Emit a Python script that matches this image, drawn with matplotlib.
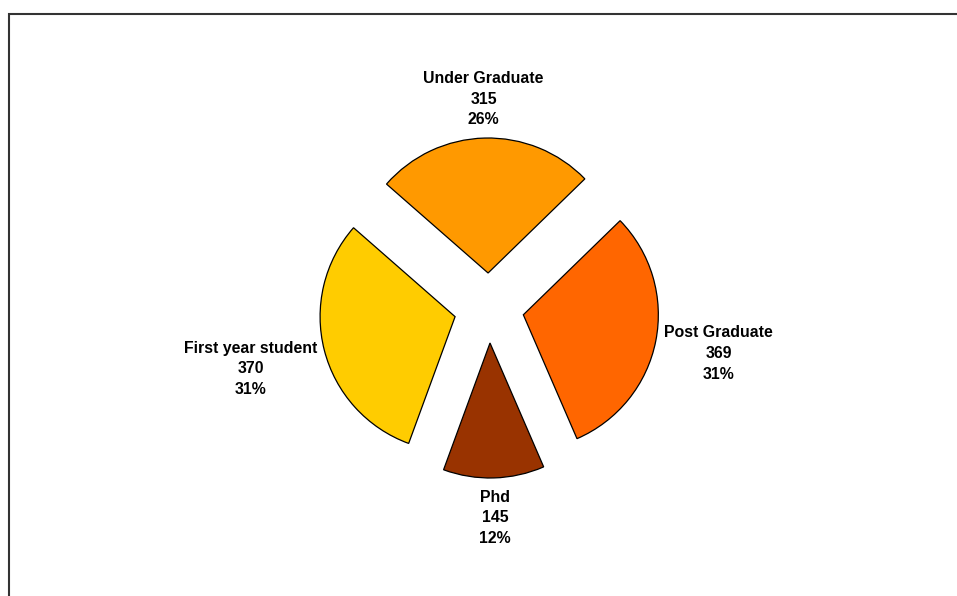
import numpy as np
import matplotlib.pyplot as plt
from matplotlib.patches import Rectangle

# 学生类别及人数
categories = ['Under Graduate', 'Post Graduate', 'Phd', 'First year student']
counts = [315, 369, 145, 370]
colors = ['#FF9900', '#FF6600', '#993300', '#FFCC00']

W, H = 957, 596
fig = plt.figure(figsize=(W / 100, H / 100), dpi=100)
# 坐标轴占满整张图，数据单位 = 像素
ax = fig.add_axes([0, 0, 1, 1])

# 外框
fig.patches.append(Rectangle((9 / W, -0.1), 1.2, (H - 14) / H + 0.1,
                             transform=fig.transFigure, fill=False,
                             edgecolor='#333333', linewidth=1.5))

cx, cy = 489, H - 308
radius = 135
total = sum(counts)
start = 91.5 + counts[0] / total * 180  # 第一块大致居中朝上

# pie 的 explode 按数据单位偏移，这里就是像素
wedges, _ = ax.pie(counts, colors=colors, radius=radius, center=(cx, cy),
                   startangle=start, counterclock=False,
                   explode=[35] * len(counts), frame=True,
                   wedgeprops=dict(edgecolor='black', linewidth=0.9))
ax.set_xlim(0, W)
ax.set_ylim(0, H)
ax.axis('off')

# 标签：沿每块的中心角方向放置
label_dist = [209, 234, 210, 246]
for w, name, n, d in zip(wedges, categories, counts, label_dist):
    ang = np.deg2rad((w.theta1 + w.theta2) / 2)
    pct = n / total * 100
    ax.text(cx + d * np.cos(ang), cy + d * np.sin(ang),
            f'{name}\n{n}\n{pct:.0f}%', ha='center', va='center',
            fontsize=11.4, fontweight='bold', family='Liberation Sans',
            linespacing=1.47)

fig.savefig('out.png', dpi=100)
